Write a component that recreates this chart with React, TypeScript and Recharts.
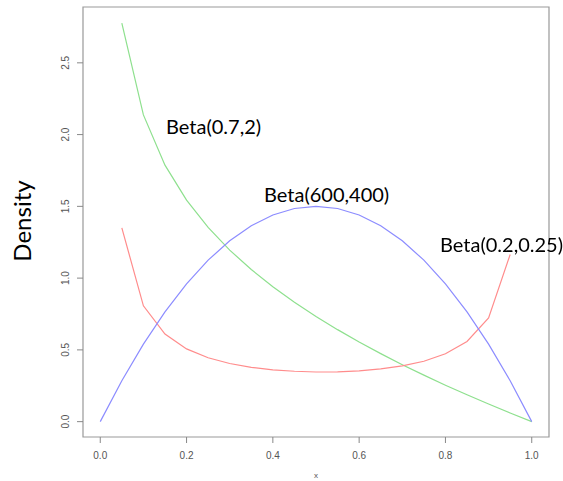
import { LineChart, Line, XAxis, YAxis, ReferenceArea } from "recharts";

// x grid shared by all three curves
const X_GRID = [0, 0.05, 0.1, 0.15, 0.2, 0.25, 0.3, 0.35, 0.4, 0.45, 0.5, 0.55, 0.6, 0.65, 0.7, 0.75, 0.8, 0.85, 0.9, 0.95, 1];

// Beta(600,400) curve (blue)
const BLUE = [0, 0.285, 0.54, 0.765, 0.96, 1.125, 1.26, 1.365, 1.44, 1.485, 1.5, 1.485, 1.44, 1.365, 1.26, 1.125, 0.96, 0.765, 0.54, 0.285, 0];
// Beta(0.7,2) curve (green), starts at 0.05
const GREEN = [null, 2.777, 2.137, 1.787, 1.543, 1.353, 1.195, 1.06, 0.94, 0.832, 0.733, 0.641, 0.555, 0.474, 0.397, 0.324, 0.254, 0.187, 0.123, 0.06, 0];
// Beta(0.2,0.25) curve (red), 0.05 .. 0.95
const RED = [null, 1.35, 0.807, 0.61, 0.507, 0.445, 0.405, 0.378, 0.361, 0.351, 0.346, 0.347, 0.354, 0.367, 0.388, 0.421, 0.473, 0.559, 0.723, 1.165, null];

const X_TICKS = [0, 0.2, 0.4, 0.6, 0.8, 1];
const Y_TICKS = [0, 0.5, 1, 1.5, 2, 2.5];

// R pads the data range by 4% on each side
const X_DOMAIN = [-0.04, 1.04];
const Y_DOMAIN = [-0.107, 2.889];

const data = X_GRID.map((x, i) => ({ x, blue: BLUE[i], green: GREEN[i], red: RED[i] }));

const tickFont = "'Liberation Sans', Arial, sans-serif";
const calloutFont = "Lato, 'Open Sans', sans-serif";

const YTick = ({ x, y, payload }: any) => (
  <text
    x={x - 6}
    y={y}
    transform={`rotate(-90 ${x - 6} ${y})`}
    textAnchor="middle"
    fontSize={10}
    fontFamily={tickFont}
    fill="#555"
  >
    {payload.value.toFixed(1)}
  </text>
);

const XTick = ({ x, y, payload }: any) => (
  <text x={x} y={y + 14} textAnchor="middle" fontSize={10} fontFamily={tickFont} fill="#555">
    {payload.value.toFixed(1)}
  </text>
);

const callout = (left: number, top: number): React.CSSProperties => ({
  position: "absolute",
  left,
  top,
  fontFamily: calloutFont,
  fontSize: 20,
  color: "#000",
  whiteSpace: "nowrap",
  lineHeight: 1,
});

export default function App() {
  return (
    <div style={{ position: "fixed", left: 0, top: 0, width: 563, height: 481, background: "#fff" }}>
      <LineChart width={563} height={481} data={data} margin={{ top: 7, right: 14, bottom: 0, left: 0 }}>
        <XAxis
          dataKey="x"
          type="number"
          domain={X_DOMAIN}
          ticks={X_TICKS}
          allowDataOverflow
          axisLine={false}
          tickLine={{ stroke: "#888" }}
          tickSize={6}
          tick={<XTick />}
          height={44}
        />
        <YAxis
          type="number"
          domain={Y_DOMAIN}
          ticks={Y_TICKS}
          allowDataOverflow
          axisLine={false}
          tickLine={{ stroke: "#888" }}
          tickSize={6}
          tick={<YTick />}
          width={83}
        />
        <ReferenceArea
          x1={X_DOMAIN[0]}
          x2={X_DOMAIN[1]}
          y1={Y_DOMAIN[0]}
          y2={Y_DOMAIN[1]}
          fill="none"
          stroke="#999"
          strokeWidth={1.2}
        />
        <Line dataKey="green" stroke="#8ee08e" strokeWidth={1.2} dot={false} isAnimationActive={false} />
        <Line dataKey="red" stroke="#ff8c8c" strokeWidth={1.2} dot={false} isAnimationActive={false} />
        <Line dataKey="blue" stroke="#8c8cff" strokeWidth={1.2} dot={false} isAnimationActive={false} />
      </LineChart>

      <div style={{ position: "absolute", left: 314, top: 471, fontFamily: tickFont, fontSize: 8, color: "#555" }}>x</div>
      <div
        style={{
          position: "absolute",
          left: 22,
          top: 221,
          transform: "translate(-50%, -50%) rotate(-90deg)",
          fontFamily: calloutFont,
          fontSize: 24,
          whiteSpace: "nowrap",
          lineHeight: 1,
        }}
      >
        Density
      </div>
      <div style={callout(166, 116)}>Beta(0.7,2)</div>
      <div style={callout(264, 184)}>Beta(600,400)</div>
      <div style={callout(440, 234)}>Beta(0.2,0.25)</div>
    </div>
  );
}
